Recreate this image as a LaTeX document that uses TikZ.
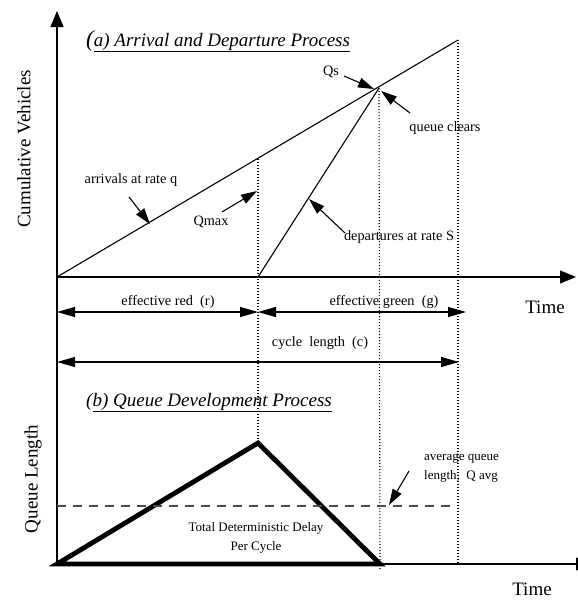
\documentclass[tikz,border=0pt]{standalone}
\usepackage{fontspec}
\setmainfont{Liberation Serif}
\usetikzlibrary{arrows.meta}
\begin{document}
\begin{tikzpicture}[x=1pt,y=-1pt,
  ln/.style={line width=1.1pt},
  axisarrow/.style={ln,-{Triangle[length=16pt,width=13pt]}},
  dimarrow/.style={ln,{Triangle[length=18pt,width=10pt]}-{Triangle[length=18pt,width=10pt]}},
  lblarrow/.style={ln,-{Triangle[length=16pt,width=10pt]}},
  dotline/.style={line width=1.1pt,dash pattern=on 1pt off 2pt},
  thick5/.style={line width=4.8pt,line join=miter},
  lbl/.style={inner sep=0pt,font=\fontsize{14.3}{16}\selectfont},
  small/.style={inner sep=0pt,font=\fontsize{13}{19}\selectfont},
  big/.style={inner sep=0pt,font=\fontsize{19}{22}\selectfont},
  ttl/.style={inner sep=0pt,anchor=base west,font=\fontsize{19}{22}\selectfont\itshape}]
\path[use as bounding box] (0,0) rectangle (578,600);
\clip (0,0) rectangle (578,600);
% key points
\coordinate (O) at (57,277);
\coordinate (Ytop) at (57,11);
\coordinate (Ybot) at (57,565);
\coordinate (Xend) at (576,277);
\coordinate (A) at (458,40);
\coordinate (R) at (258,277);
\coordinate (Qm) at (258,159);
\coordinate (P) at (379,88);
\coordinate (LO) at (57,564);
\coordinate (LP) at (258,443);
\coordinate (LR) at (380,564);
\coordinate (Lend) at (592,564);
\coordinate (Pd) at (380,570);
\coordinate (Ad) at (458,564);
\coordinate (LPt) at (258,443);
% dotted verticals
\draw[dotline] (Qm) -- (LPt);
\draw[dotline] (P) -- (Pd);
\draw[dotline] (A) -- (Ad);
% axes
\draw[axisarrow] (Ybot) -- (Ytop);
\draw[axisarrow] (O) -- (Xend);
\draw[axisarrow] (LO) -- (Lend);
% cumulative curves
\draw[ln] (O) -- (A);
\draw[ln] (R) -- (P);
% dimension arrows
\coordinate (r1) at (57,312);
\coordinate (r2) at (258,312);
\coordinate (g2) at (466,312);
\coordinate (c1) at (57,362);
\coordinate (c2) at (459,362);
\draw[dimarrow] (r1) -- (r2);
\draw[dimarrow] (r2) -- (g2);
\draw[dimarrow] (c1) -- (c2);
% queue triangle
\draw[thick5] (LO) -- (LP) -- (LR) -- cycle;
% average queue dashed
\coordinate (d1) at (57,506);
\coordinate (d2) at (453,506);
\draw[line width=1.1pt,black!70,dash pattern=on 9pt off 7pt] (d1) -- (d2);
% labels
\node[ttl] (ta) at (86,46) {{\fontsize{23}{24}\selectfont(}\underline{a) Arrival and Departure Process}};
\node[ttl] (tb) at (86,406) {(\underline{b) Queue Development Process}};
\node[big,rotate=90] (yl1) at (24,149) {Cumulative Vehicles};
\node[big,rotate=90] (yl2) at (33,479) {Queue Length};
\node[big] (t1) at (545,307) {Time};
\node[big] (t2) at (532,589) {Time};
\node[lbl] (arr) at (131,180) {arrivals at rate q};
\node[lbl] (qmax) at (211,222) {Qmax};
\node[lbl] (qs) at (331,72) {Qs};
\node[lbl] (qc) at (445,128) {queue clears};
\node[lbl] (dep) at (399,237) {departures at rate S};
\node[lbl] (er) at (168,302) {effective red\ \ (r)};
\node[lbl] (eg) at (384,302) {effective green\ \ (g)};
\node[lbl] (cl) at (320,343) {cycle\ \ length\ \ (c)};
\node[small,align=center] (tdd) at (256,538) {Total Deterministic Delay\\Per Cycle};
\node[small,align=left,anchor=west] (avg) at (424,468) {average queue\\length,\ \ Q avg};
% label arrows
\coordinate (a1) at (129,197); \coordinate (a2) at (150,224);
\coordinate (m1) at (222,212); \coordinate (m2) at (257,191);
\coordinate (s1) at (344,76);  \coordinate (s2) at (374,89);
\coordinate (q1) at (410,113); \coordinate (q2) at (381,91);
\coordinate (p1) at (345,233); \coordinate (p2) at (309,199);
\coordinate (v1) at (409,471); \coordinate (v2) at (389,505);
\draw[lblarrow] (a1) -- (a2);
\draw[lblarrow] (m1) -- (m2);
\draw[lblarrow] (s1) -- (s2);
\draw[lblarrow] (q1) -- (q2);
\draw[lblarrow] (p1) -- (p2);
\draw[lblarrow] (v1) -- (v2);
\end{tikzpicture}
\end{document}
